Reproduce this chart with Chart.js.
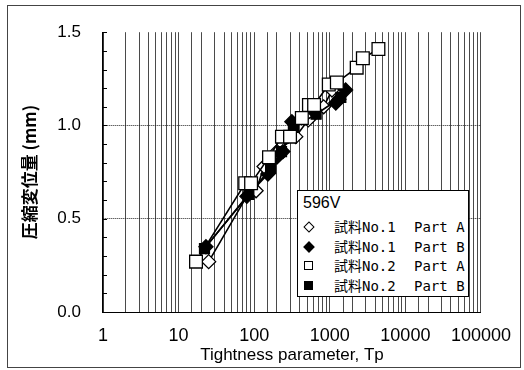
<!DOCTYPE html>
<html><head><meta charset="utf-8">
<script src="https://cdn.jsdelivr.net/npm/chart.js@4/dist/chart.umd.min.js"></script>
<style>
html,body{margin:0;padding:0;background:#fff;}
#wrap{position:relative;width:524px;height:370px;overflow:hidden;}
#frame{position:absolute;left:7px;top:5px;width:512px;height:361px;border:1px solid #444;}
canvas{position:absolute;left:0;top:0;}
#legend{position:absolute;left:297px;top:190px;width:170px;height:105px;border:1.5px solid #000;background:#fff;
 font-family:"DejaVu Sans Mono","Noto Sans CJK JP",monospace;font-size:14px;color:#000;}
#legend .t{position:absolute;left:5px;top:3px;font-family:"Liberation Sans Narrow","Liberation Sans",sans-serif;font-size:16px;}
#legend .row{position:absolute;left:0;height:20px;line-height:20px;white-space:nowrap;}
#legend .mk{position:absolute;left:6px;top:5px;width:9px;height:9px;box-sizing:border-box;}
#legend .s{position:absolute;left:36px;}
#legend .p{position:absolute;left:116px;}
</style></head>
<body><div id="wrap"><div id="frame"></div><canvas id="c" width="524" height="370"></canvas><div id="legend"></div></div>
<script>
// ---- data ----
const legendTitle = "596V";
const sampleNames = ["試料No.1", "試料No.1", "試料No.2", "試料No.2"];
const partNames = ["Part A", "Part B", "Part A", "Part B"];

const tp_No1_A   = [25, 91, 106, 135, 200, 355, 520, 830, 1070];
const disp_No1_A = [0.27, 0.66, 0.65, 0.78, 0.86, 0.94, 1.03, 1.10, 1.19];

const tp_No1_B   = [23, 80, 152, 200, 240, 315, 580, 1200, 1320, 1620];
const disp_No1_B = [0.35, 0.62, 0.74, 0.83, 0.86, 1.02, 1.05, 1.12, 1.14, 1.19];

const tp_No2_A   = [17, 76, 91, 157, 233, 298, 427, 530, 620, 970, 1240, 2270, 2740, 4400];
const disp_No2_A = [0.27, 0.69, 0.69, 0.83, 0.94, 0.94, 1.04, 1.11, 1.11, 1.22, 1.23, 1.31, 1.36, 1.41];

const tp_No2_B   = [22, 85, 165, 230, 330, 660, 1400];
const disp_No2_B = [0.34, 0.63, 0.77, 0.86, 0.99, 1.06, 1.15];

const xTickValues = [1, 10, 100, 1000, 10000, 100000];
const yTickValues = [0.0, 0.5, 1.0, 1.5];
const xTitle = "Tightness parameter, Tp";
const yTitle = "圧縮変位量 (mm)";

// ---- build ----
function pts(xs, ys){ return xs.map((x,i)=>({x:x, y:ys[i]})); }
const styles = [
  {pointStyle:'rectRot', fill:'#fff', r:7, order:2},
  {pointStyle:'rectRot', fill:'#000', r:7, order:3},
  {pointStyle:'rect',    fill:'#fff', r:9, order:0},
  {pointStyle:'rect',    fill:'#000', r:7, order:1}
];
const series = [pts(tp_No1_A, disp_No1_A), pts(tp_No1_B, disp_No1_B), pts(tp_No2_A, disp_No2_A), pts(tp_No2_B, disp_No2_B)];
const datasets = series.map((d,i)=>({
  label: sampleNames[i] + "  " + partNames[i],
  data: d,
  showLine: true,
  borderColor: '#000',
  borderWidth: 1.6,
  pointStyle: styles[i].pointStyle,
  pointRadius: styles[i].r,
  pointBackgroundColor: styles[i].fill,
  pointBorderColor: '#000',
  pointBorderWidth: 1.3,
  order: styles[i].order
}));

const isX = v => xTickValues.some(t => Math.abs(t - v) < 1e-9 * t);
const isY = v => yTickValues.some(t => Math.abs(t - v) < 1e-6);

const innerTicks = {
  id: 'innerTicks',
  afterDatasetsDraw(chart){
    const y = chart.scales.y, ca = chart.chartArea, ctx = chart.ctx;
    ctx.save(); ctx.strokeStyle = '#000'; ctx.lineWidth = 1;
    y.ticks.forEach(t => {
      const py = Math.round(y.getPixelForValue(t.value)) + 0.5;
      ctx.beginPath(); ctx.moveTo(ca.left, py); ctx.lineTo(ca.left + 4, py); ctx.stroke();
    });
    ctx.restore();
  }
};

new Chart(document.getElementById('c'), {
  type: 'scatter',
  data: { datasets },
  options: {
    responsive: false, animation: false,
    layout: { padding: { left: 0, top: 24, right: 41, bottom: 0 } },
    plugins: { legend: { display: false }, tooltip: { enabled: false } },
    scales: {
      x: {
        type: 'logarithmic', min: 1, max: 100000,
        afterFit: s => { s.height = 58; },
        ticks: {
          autoSkip: false, maxRotation: 0, padding: 13, color: '#000',
          font: { family: '"Liberation Sans", Arial, sans-serif', size: 18 },
          callback: v => isX(v) ? String(v) : ''
        },
        grid: { drawTicks: false, color: '#4a4a4a', lineWidth: 1 },
        border: { color: '#000', width: 1, dash: [] },
        title: { display: true, text: xTitle, color: '#000',
          font: { family: '"Liberation Sans", Arial, sans-serif', size: 17 },
          padding: { top: 0, bottom: 4 } }
      },
      y: {
        min: 0, max: 1.5,
        afterFit: s => { s.width = 103; },
        ticks: {
          stepSize: 0.1, autoSkip: false, padding: 22, color: '#000',
          font: { family: '"Liberation Sans Narrow", "Liberation Sans", Arial, sans-serif', size: 17 },
          callback: v => isY(v) ? v.toFixed(1) : ''
        },
        grid: { drawTicks: false, lineWidth: 1,
          color: c => (c.tick && (Math.abs(c.tick.value - 0.5) < 1e-6 || Math.abs(c.tick.value - 1.0) < 1e-6)) ? '#222' : 'rgba(0,0,0,0)' },
        border: { color: '#000', width: 1.3, dash: [1, 1] },
        title: { display: true, text: yTitle, color: '#000',
          font: { family: '"Noto Sans CJK JP", sans-serif', size: 17, weight: 'bold' },
          padding: { top: 19, bottom: 0 } }
      }
    }
  },
  plugins: [innerTicks]
});

// HTML legend from the dataset info
const lg = document.getElementById('legend');
const t = document.createElement('div'); t.className = 't'; t.textContent = legendTitle; lg.appendChild(t);
const rowTops = [26, 45.5, 65, 84.5];
datasets.forEach((ds, i) => {
  const row = document.createElement('div'); row.className = 'row'; row.style.top = rowTops[i] + 'px'; row.style.width = '170px';
  const mk = document.createElement('span'); mk.className = 'mk';
  mk.style.background = styles[i].fill; mk.style.border = '1.5px solid #000';
  if (styles[i].pointStyle === 'rectRot') { mk.style.transform = 'rotate(45deg)'; mk.style.width = '8px'; mk.style.height = '8px'; mk.style.left = '7px'; mk.style.top = '6px'; }
  const s = document.createElement('span'); s.className = 's'; s.textContent = sampleNames[i];
  const p = document.createElement('span'); p.className = 'p'; p.textContent = partNames[i];
  row.appendChild(mk); row.appendChild(s); row.appendChild(p); lg.appendChild(row);
});
</script></body></html>
